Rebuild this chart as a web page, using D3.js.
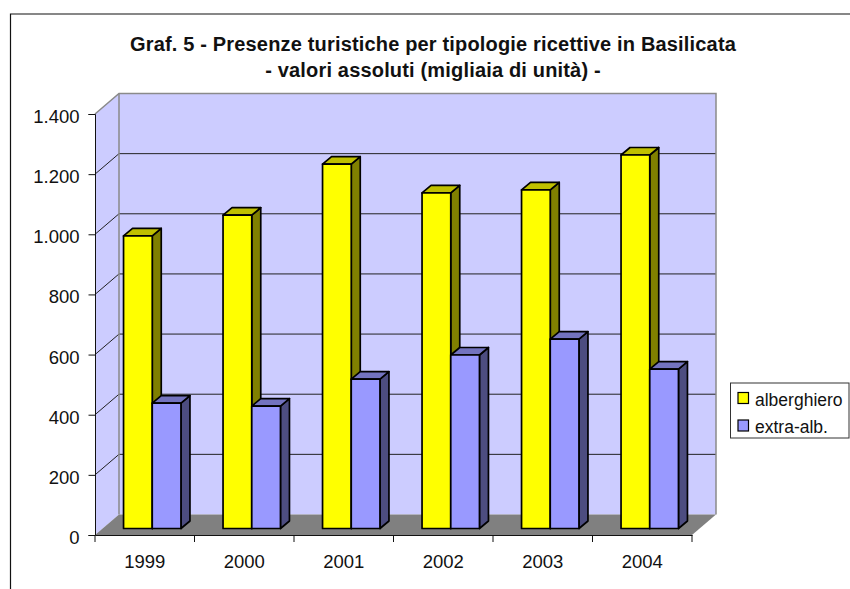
<!DOCTYPE html>
<html>
<head>
<meta charset="utf-8">
<script src="https://cdn.jsdelivr.net/npm/d3@7"></script>
<style>
  html, body { margin: 0; padding: 0; background: #fff; }
  svg { display: block; }
  text { font-family: "Liberation Sans", Arial, sans-serif; fill: #111; }
</style>
</head>
<body>
<svg id="chart" width="850" height="589"></svg>
<script>
const years = ["1999", "2000", "2001", "2002", "2003", "2004"];
const alberghiero = [973, 1042, 1212, 1116, 1126, 1242];
const extraAlb = [417, 407, 497, 577, 630, 530];
const yTicks = [0, 200, 400, 600, 800, 1000, 1200, 1400];
const titleLines = [
  "Graf. 5 - Presenze turistiche per tipologie ricettive in Basilicata",
  "- valori assoluti (migliaia di unità) -"
];
const seriesNames = ["alberghiero", "extra-alb."];

const svg = d3.select("#chart");

// front plane of the 3d box
const pxLeft = 95, pxRight = 692, pxBottom = 535, pxTop = 114;
// offset of the back wall
const depthX = 24, depthY = -20.5;
// bars sit in the middle of the depth
const barOffX = 7.5, barOffY = -6.5, barDepthX = 9, barDepthY = -7.5;

const scX = d3.scaleBand().domain(years).range([pxLeft, pxRight]);
const scY = d3.scaleLinear().domain([0, 1400]).range([pxBottom, pxTop]);
const scBar = d3.scaleBand().domain(seriesNames)
  .range([0, scX.bandwidth()]).paddingOuter(0.733).paddingInner(0);

const it = d3.formatLocale({decimal: ",", thousands: ".", grouping: [3], currency: ["", ""]});

const poly = pts => "M" + pts.map(p => p.join(",")).join("L") + "Z";

// outer chart frame, only top and left are inside the picture
svg.append("path").attr("d", "M10.5,589V14H850")
  .attr("fill", "none").attr("stroke", "#111").attr("stroke-width", 1.2);

// walls and floor
svg.append("path")
  .attr("d", poly([[pxLeft, pxTop], [pxLeft + depthX, pxTop + depthY], [pxLeft + depthX, pxBottom + depthY], [pxLeft, pxBottom]]))
  .attr("fill", "#ccccff");
svg.append("rect")
  .attr("x", pxLeft + depthX).attr("y", pxTop + depthY)
  .attr("width", pxRight - pxLeft).attr("height", pxBottom - pxTop)
  .attr("fill", "#ccccff");
svg.append("path")
  .attr("d", poly([[pxLeft, pxBottom], [pxLeft + depthX, pxBottom + depthY], [pxRight + depthX, pxBottom + depthY], [pxRight, pxBottom]]))
  .attr("fill", "#808080");

// gridlines
const grid = svg.append("g").attr("fill", "none").attr("stroke", "#222").attr("stroke-width", 1);
yTicks.filter(d => d > 0 && d < 1400).forEach(d => {
  grid.append("path").attr("d", d3.line()([
    [pxLeft, scY(d)],
    [pxLeft + depthX, scY(d) + depthY],
    [pxRight + depthX, scY(d) + depthY]
  ]));
});

// wall edges
svg.append("path")
  .attr("d", d3.line()([
    [pxLeft, pxTop],
    [pxLeft + depthX, pxTop + depthY],
    [pxRight + depthX, pxTop + depthY],
    [pxRight + depthX, pxBottom + depthY]
  ]))
  .attr("fill", "none").attr("stroke", "#8a8a8a").attr("stroke-width", 1.5);
svg.append("path")
  .attr("d", d3.line()([[pxLeft + depthX, pxTop + depthY], [pxLeft + depthX, pxBottom + depthY]]))
  .attr("fill", "none").attr("stroke", "#8a8a8a").attr("stroke-width", 1.5);

// bars
const drawBar = (year, name, value, cFront, cTop, cSide) => {
  const x0 = scX(year) + scBar(name) + barOffX;
  const x1 = x0 + scBar.bandwidth();
  const yB = scY(0) + barOffY;
  const yT = scY(value) + barOffY;
  const g = svg.append("g").attr("stroke", "#000").attr("stroke-width", 1.7).attr("stroke-linejoin", "round");
  g.append("path").attr("fill", cSide)
    .attr("d", poly([[x1, yT], [x1 + barDepthX, yT + barDepthY], [x1 + barDepthX, yB + barDepthY], [x1, yB]]));
  g.append("path").attr("fill", cTop)
    .attr("d", poly([[x0, yT], [x0 + barDepthX, yT + barDepthY], [x1 + barDepthX, yT + barDepthY], [x1, yT]]));
  g.append("rect").attr("fill", cFront)
    .attr("x", x0).attr("y", yT).attr("width", x1 - x0).attr("height", yB - yT);
};
years.forEach((y, i) => {
  drawBar(y, seriesNames[0], alberghiero[i], "#ffff00", "#c0c000", "#808000");
  drawBar(y, seriesNames[1], extraAlb[i], "#9999ff", "#7373bf", "#4d4d80");
});

// axes
const axY = svg.append("g").attr("transform", `translate(${pxLeft},0)`)
  .call(d3.axisLeft(scY).tickValues(yTicks).tickSize(6.5).tickPadding(9).tickFormat(it.format(",d")));
const axX = svg.append("g").attr("transform", `translate(0,${pxBottom})`)
  .call(d3.axisBottom(scX).tickSize(0).tickPadding(20));
axX.selectAll("g.xt").data(scX.domain().concat("end")).enter().append("line")
  .attr("x1", (d, i) => pxLeft + i * scX.step()).attr("x2", (d, i) => pxLeft + i * scX.step())
  .attr("y1", 0).attr("y2", 7).attr("stroke", "#111");
[axY, axX].forEach(a => {
  a.selectAll("text").style("font-family", '"Liberation Sans", Arial, sans-serif').style("font-size", "18.5px").attr("fill", "#111");
  a.selectAll("path.domain,line").attr("stroke", "#111");
});
axY.selectAll("text").attr("dy", "0.46em");

// title
svg.append("g").selectAll("text").data(titleLines).enter().append("text")
  .attr("x", 433).attr("y", (d, i) => 51 + i * 26)
  .attr("text-anchor", "middle").attr("font-weight", "bold").attr("font-size", "20px")
  .style("letter-spacing", "0.17px")
  .text(d => d);

// legend
const lg = svg.append("g").attr("transform", "translate(730.5,383)");
lg.append("rect").attr("width", 118.5).attr("height", 55)
  .attr("fill", "#fff").attr("stroke", "#333").attr("stroke-width", 1);
const lgColors = ["#ffff00", "#9999ff"];
seriesNames.forEach((s, i) => {
  lg.append("rect").attr("x", 7.5).attr("y", 9.5 + i * 27.5).attr("width", 10.5).attr("height", 11)
    .attr("fill", lgColors[i]).attr("stroke", "#000").attr("stroke-width", 1.2);
  lg.append("text").attr("x", 24.5).attr("y", 22.5 + i * 27).attr("font-size", "17.5px").text(s);
});
</script>
</body>
</html>
